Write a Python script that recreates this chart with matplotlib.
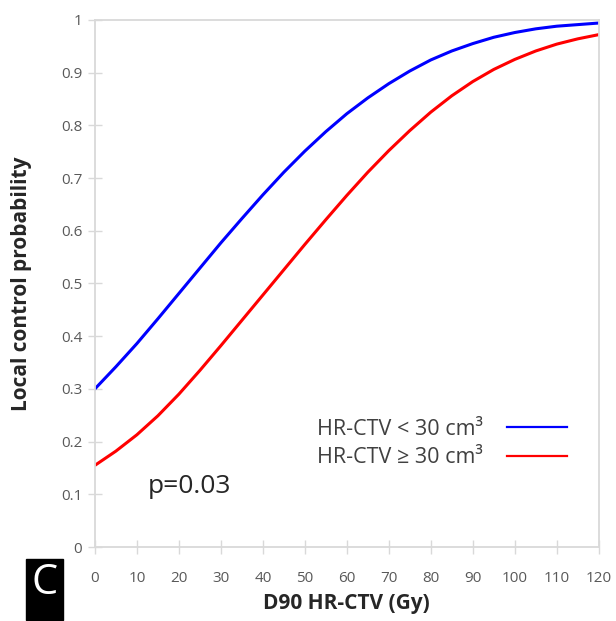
import matplotlib
matplotlib.use("Agg")
import matplotlib.pyplot as plt
from matplotlib.patches import Rectangle

plt.rcParams['font.family'] = ['Open Sans', 'DejaVu Sans']

# dose (Gy) and the two fitted curves, every 5 Gy
dose = [0, 5, 10, 15, 20, 25, 30, 35, 40, 45, 50, 55, 60,
        65, 70, 75, 80, 85, 90, 95, 100, 105, 110, 115, 120]
lc_small = [0.300, 0.342, 0.386, 0.433, 0.481, 0.529, 0.577, 0.623, 0.668,
            0.711, 0.751, 0.788, 0.822, 0.852, 0.879, 0.903, 0.924, 0.941,
            0.955, 0.967, 0.976, 0.983, 0.988, 0.991, 0.994]
lc_large = [0.155, 0.182, 0.213, 0.249, 0.290, 0.335, 0.382, 0.430, 0.478,
            0.526, 0.574, 0.621, 0.667, 0.711, 0.752, 0.790, 0.825, 0.856,
            0.883, 0.906, 0.925, 0.941, 0.954, 0.964, 0.972]
labels = ['HR-CTV < 30 cm³', 'HR-CTV ≥ 30 cm³']
x_ticks = list(range(0, 121, 10))
y_ticks = [0, 0.1, 0.2, 0.3, 0.4, 0.5, 0.6, 0.7, 0.8, 0.9, 1]
p_text = 'p=0.03'

fig = plt.figure(figsize=(6.16, 6.21), dpi=100)
ax = fig.add_axes([0.154, 0.119, 0.818, 0.849])

ax.plot(dose, lc_small, color='#0000ff', lw=2.2, label=labels[0])
ax.plot(dose, lc_large, color='#ff0000', lw=2.2, label=labels[1])

ax.set_xlim(0, 120)
ax.set_ylim(0, 1)
ax.set_xticks(x_ticks)
ax.set_yticks(y_ticks)
ax.set_yticklabels(['%g' % v for v in y_ticks])

for s in ax.spines.values():
    s.set_color('#d9d9d9')
    s.set_linewidth(1.3)
ax.tick_params(axis='x', direction='inout', length=10, width=1, color='#d9d9d9',
               labelsize=11, labelcolor='#595959', pad=12.5)
ax.tick_params(axis='y', direction='inout', length=10, width=1, color='#d9d9d9',
               labelsize=11, labelcolor='#595959', pad=4)

ax.set_xlabel('D90 HR-CTV (Gy)', fontsize=15, fontweight='bold', color='#262626', labelpad=5)
ax.set_ylabel('Local control probability', fontsize=15, fontweight='bold', color='#262626', labelpad=21)

leg = ax.legend(loc='lower right', bbox_to_anchor=(0.975, 0.113), frameon=False,
                markerfirst=False, handlelength=2.8, handletextpad=1.1,
                labelspacing=0.35, fontsize=15.5)
for t in leg.get_texts():
    t.set_color('#404040')
for ln in leg.get_lines():
    ln.set_linewidth(1.6)

ax.text(0.105, 0.114, p_text, transform=ax.transAxes, fontsize=19, color='#262626',
        va='center')

# panel letter
fig.patches.append(Rectangle((26 / 616, 1 / 621), 37 / 616, 61 / 621,
                             transform=fig.transFigure, color='black'))
fig.text(44.5 / 616, 38 / 621, 'C', color='white', fontsize=30,
         ha='center', va='center')

fig.savefig('out.png', dpi=100)
